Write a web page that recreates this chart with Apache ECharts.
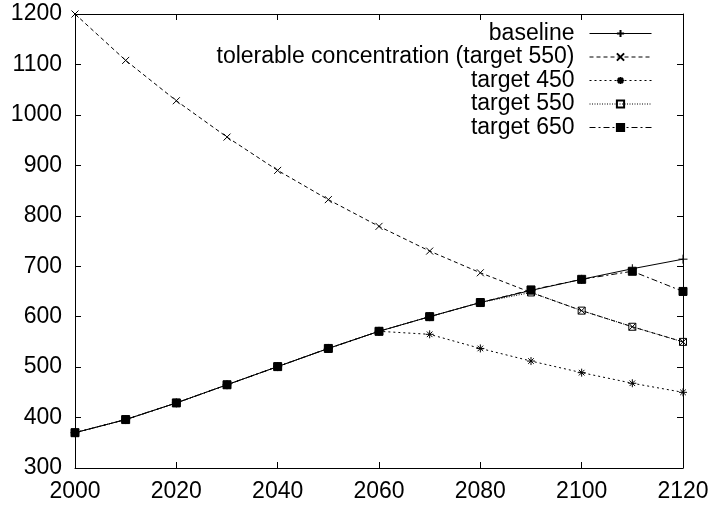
<!DOCTYPE html>
<html><head><meta charset="utf-8">
<script src="https://cdn.jsdelivr.net/npm/echarts@6/dist/echarts.min.js"></script>
<style>html,body{margin:0;padding:0;background:#fff}#c{width:712px;height:508px}</style>
</head><body><div id="c"></div>
<script>
const years = [2000,2010,2020,2030,2040,2050,2060,2070,2080,2090,2100,2110,2120];
const baseline = [370,396,429,465,501,537,571,600,628,652,674,695,714];
const tolerable = [1200,1108,1028,956,890,832,779,730,687,648,612,580,550];
const target450 = [370,396,429,465,501,537,571,565,537,512,489,468,450];
const target550 = [370,396,429,465,501,537,571,600,628,648,612,580,550];
const target650 = [370,396,429,465,501,537,571,600,628,653,674,690,650];
const seriesNames = ['baseline','tolerable concentration (target 550)','target 450','target 550','target 650'];
const xTicks = {min:2000,max:2120,interval:20};
const yTicks = {min:300,max:1200,interval:100};

const FONT = '"Liberation Sans", Arial, sans-serif';
const pair = (vals) => years.map((y,i)=>[y,vals[i]]);
const SYM = {
  plus: 'path://M0,5L10,5M5,0L5,10',
  cross: 'path://M0,0L10,10M0,10L10,0',
  star: 'path://M0,5L10,5M5,0L5,10M1.5,1.5L8.5,8.5M1.5,8.5L8.5,1.5',
  box: 'path://M0,0L10,0L10,10L0,10Z'
};
function mk(name, vals, sym, size, dash, fill, z){
  return {
    name, type:'line', data: pair(vals), symbol: sym, symbolSize: size, z,
    showAllSymbol:true, animation:false,
    lineStyle:{color:'#000', width:1, type: dash},
    itemStyle:{color: fill, borderColor:'#000', borderWidth:1},
    emphasis:{disabled:true}
  };
}
const series = [
  mk(seriesNames[0], baseline, SYM.plus, 9, 'solid', 'rgba(0,0,0,0)', 2),
  mk(seriesNames[1], tolerable, SYM.cross, 7, [4,3], 'rgba(0,0,0,0)', 2),
  mk(seriesNames[2], target450, SYM.star, 8, [2,3], 'rgba(0,0,0,0)', 2),
  mk(seriesNames[3], target550, SYM.box, 7, [1,1.5], 'rgba(0,0,0,0)', 3),
  mk(seriesNames[4], target650, SYM.box, 8, [6,3,2,3], '#000', 4)
];
const axCommon = {
  type:'value', splitLine:{show:false},
  axisLine:{show:true, lineStyle:{color:'#000', width:1}},
  axisTick:{show:true, inside:true, length:6, lineStyle:{color:'#000'}},
};
const chart = echarts.init(document.getElementById('c'), null, {renderer:'canvas'});
chart.setOption({
  animation:false,
  backgroundColor:'#fff',
  textStyle:{fontFamily:FONT},
  grid:{left:75, right:29, top:14, bottom:40, containLabel:false},
  legend:{
    data: seriesNames, orient:'vertical', align:'right', right:55, top:17,
    itemWidth:62, itemHeight:9, itemGap:0.5,
    lineStyle:{width:1},
    textStyle:{fontFamily:FONT, fontSize:23, color:'#000', lineHeight:22, padding:[0,10,0,0]},
    selectedMode:false
  },
  xAxis:[
    Object.assign({}, axCommon, {min:xTicks.min, max:xTicks.max, interval:xTicks.interval, position:'bottom',
      axisLabel:{color:'#000', fontSize:23, fontFamily:FONT, margin:12, formatter: v => String(v)}}),
    Object.assign({}, axCommon, {min:xTicks.min, max:xTicks.max, interval:xTicks.interval, position:'top',
      axisLabel:{show:false}})
  ],
  yAxis:[
    Object.assign({}, axCommon, {min:yTicks.min, max:yTicks.max, interval:yTicks.interval, position:'left',
      axisLabel:{color:'#000', fontSize:23, fontFamily:FONT, margin:13, formatter: v => String(v)}}),
    Object.assign({}, axCommon, {min:yTicks.min, max:yTicks.max, interval:yTicks.interval, position:'right',
      axisLabel:{show:false}})
  ],
  series
});
</script></body></html>
